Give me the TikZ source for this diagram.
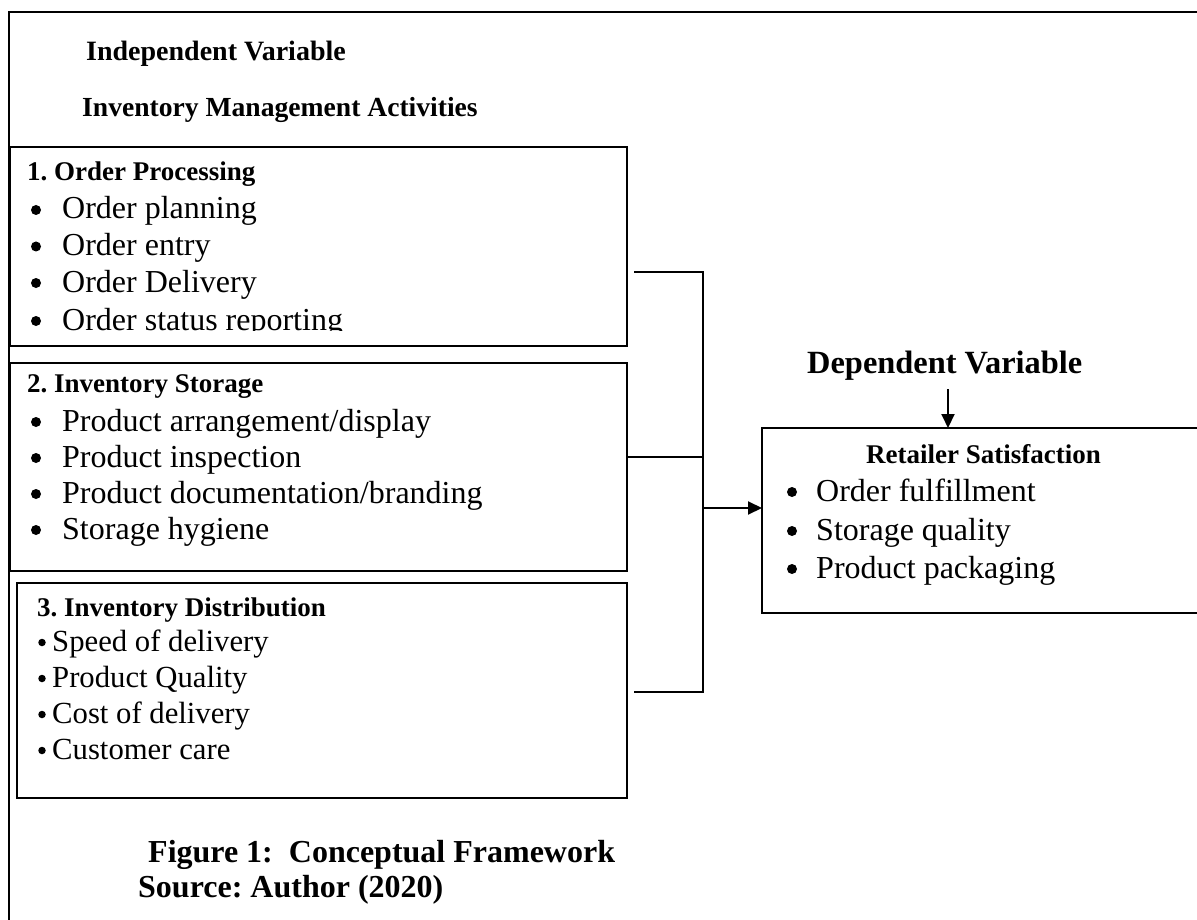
\documentclass[tikz,border=0pt]{standalone}
\usepackage{fontspec}
\setmainfont{Liberation Serif}
\usetikzlibrary{arrows.meta}
\newcommand{\fsz}[1]{\fontsize{#1}{#1}\selectfont}
\begin{document}
\begin{tikzpicture}[x=1pt,y=-1pt,
  frame/.style={line width=2.2pt},
  box/.style={draw, line width=2pt, rectangle, inner sep=0pt, anchor=north west},
  hole/.style={draw=none, rectangle, inner sep=0pt, anchor=north west},
  txt/.style={anchor=base west, inner sep=0pt},
  head/.style={txt, font=\fsz{27}\bfseries\frenchspacing},
  bighead/.style={txt, font=\fsz{32}\bfseries\frenchspacing},
  item/.style={txt, font=\fsz{32}},
  smallitem/.style={txt, font=\fsz{30.7}},
  dot/.style={circle, fill=black, inner sep=0pt, minimum size=10pt},
  smalldot/.style={circle, fill=black, inner sep=0pt, minimum size=7.5pt},
  conn/.style={line width=2pt},
  tip/.style={-{Triangle[length=14pt,width=13pt]}},
]
\useasboundingbox (0,0) rectangle (1197,920);
\fill[white] (0,0) rectangle (1197,920);

% outer frame (open on right and bottom)
\node[hole, minimum width=1188pt, minimum height=908pt] (outer) at (9,12) {};
\draw[frame] (outer.north east) -- (outer.north west) -- (outer.south west);

% headings
\node[head, font=\fsz{28}\bfseries] (iv) at (86,61) {Independent Variable};
\node[head, font=\fsz{27.6}\bfseries] (ima) at (82,117) {Inventory Management Activities};

% box 1
\node[box, minimum width=617pt, minimum height=199pt] (b1) at (9,146) {};
\node[head] (b1t) at (27,181) {1. Order Processing};
\foreach \y/\n in {219/a, 255.5/b, 292/c, 330/d}
  \node[dot] (b1d\n) at (36,\y-9) {};
\begin{scope}
\clip (9,146) rectangle (626,330);
\node[item] (b1a) at (62,219) {Order planning};
\node[item] (b1b) at (62,255.5) {Order entry};
\node[item] (b1c) at (62,292) {Order Delivery};
\node[item] (b1d) at (62,330) {Order status reporting};
\end{scope}

% box 2
\node[box, minimum width=617pt, minimum height=208pt] (b2) at (9,362) {};
\node[head] (b2t) at (27,392) {2. Inventory Storage};
\foreach \y/\n in {431/a, 467/b, 503/c, 539/d}
  \node[dot] (b2d\n) at (36,\y-9) {};
\node[item] (b2a) at (62,431) {Product arrangement/display};
\node[item] (b2b) at (62,467) {Product inspection};
\node[item] (b2c) at (62,503) {Product documentation/branding};
\node[item] (b2d) at (62,539) {Storage hygiene};

% box 3
\node[box, minimum width=610pt, minimum height=215pt] (b3) at (16,582) {};
\node[head] (b3t) at (37,616) {3. Inventory Distribution};
\foreach \y/\n in {651/a, 687/b, 723/c, 759/d}
  \node[smalldot] (b3d\n) at (42,\y-8.5) {};
\node[smallitem] (b3a) at (52,651) {Speed of delivery};
\node[smallitem] (b3b) at (52,687) {Product Quality};
\node[smallitem] (b3c) at (52,723) {Cost of delivery};
\node[smallitem] (b3d) at (52,759) {Customer care};

% caption
\node[bighead] (fig) at (148,862) {Figure 1:\ \ Conceptual Framework};
\node[bighead] (src) at (138,897) {Source: Author (2020)};

% dependent variable
\node[bighead, font=\fsz{32.4}\bfseries] (dv) at (807,373) {Dependent Variable};
\node[hole, minimum width=435pt, minimum height=185pt] (rs) at (762,428) {};
\draw[conn] (rs.north east) -- (rs.north west) -- (rs.south west) -- (rs.south east);
\node[head] (rst) at (866,463) {Retailer Satisfaction};
\foreach \y/\n in {501/a, 540/b, 578/c}
  \node[dot] (rsd\n) at (792,\y-9) {};
\node[item] (rsa) at (816,501) {Order fulfillment};
\node[item] (rsb) at (816,540) {Storage quality};
\node[item] (rsc) at (816,578) {Product packaging};

\coordinate (dvs) at (948,389);
\draw[conn, tip] (dvs) -- (dvs |- rs.north);

% bracket connector
\coordinate (t0) at (634,272);
\coordinate (jt) at (703,272);
\coordinate (jm) at (703,457);
\coordinate (ja) at (703,508);
\coordinate (jb) at (703,692);
\coordinate (b0) at (634,692);
\draw[conn] (t0) -- (jt) -- (jb) -- (b0);
\draw[conn] (b2.east |- jm) -- (jm);
\draw[conn, tip] (ja) -- (ja -| rs.west);
\end{tikzpicture}
\end{document}
